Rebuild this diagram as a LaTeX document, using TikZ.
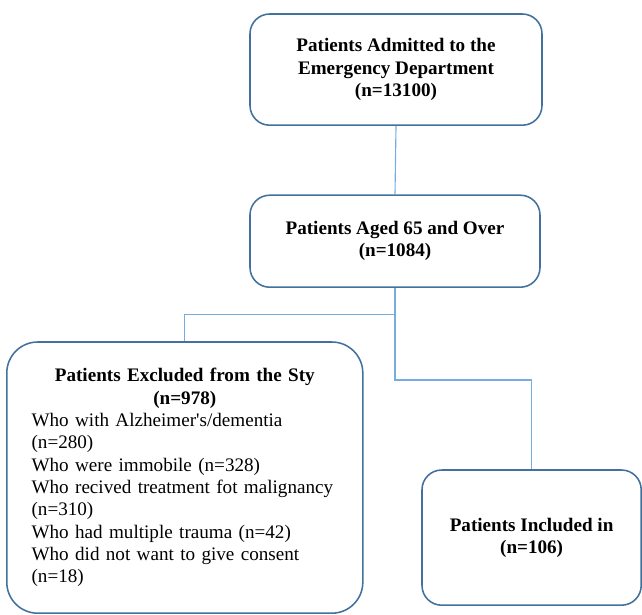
\documentclass[tikz,border=0pt]{standalone}
\usepackage{fontspec}
\setmainfont{Liberation Serif}
\usetikzlibrary{positioning, calc}
\definecolor{boxcol}{RGB}{65,113,156}
\definecolor{linkcol}{RGB}{120,172,222}

\begin{document}
\begin{tikzpicture}[
  font=\fontsize{13.6}{16}\selectfont,
  stage/.style={draw=boxcol, line width=1.1pt, fill=white, align=center,
                font=\fontsize{13.6}{15.8}\selectfont\bfseries, inner sep=4pt},
  link/.style={draw=linkcol, line width=0.8pt},
]
\useasboundingbox (0,0) rectangle (16.05,-15.35);

% --- Stages ---
\node[stage, rounded corners=14pt, minimum width=7.3cm, minimum height=2.78cm]
  (adm) at (9.9,-1.74) {Patients Admitted to the\\Emergency Department\\(n=13100)};
\node[stage, rounded corners=14pt, minimum width=7.25cm, minimum height=2.3cm]
  (age) at (9.875,-6.03) {Patients Aged 65 and Over\\(n=1084)};
\node[stage, rounded corners=22pt, minimum width=8.9cm, minimum height=6.78cm,
      inner xsep=0.62cm, text width=7.66cm, align=left,
      font=\fontsize{13.6}{15.9}\selectfont]
  (exc) at (4.62,-11.94) {{\centering\bfseries Patients Excluded from the Sty\\(n=978)\par}%
  Who with Alzheimer\textquotesingle s/dementia\\(n=280)\\Who were immobile (n=328)\\%
  Who recived treatment fot malignancy\\(n=310)\\Who had multiple trauma (n=42)\\%
  Who did not want to give consent\\(n=18)};
\node[stage, rounded corners=14pt, minimum width=5.48cm, minimum height=3.38cm]
  (inc) at (13.29,-13.44) {Patients Included in\\(n=106)};

% --- Connectors ---
\coordinate (split) at ($(age.south)+(0,-0.67)$);
\coordinate (turn) at ($(age.south)+(0,-2.3)$);
\draw[link] (adm.south) -- (age.north);
\draw[link] (age.south) -- (turn) -| (inc.north);
\draw[link] (split) -| (exc.north);

\end{tikzpicture}
\end{document}
